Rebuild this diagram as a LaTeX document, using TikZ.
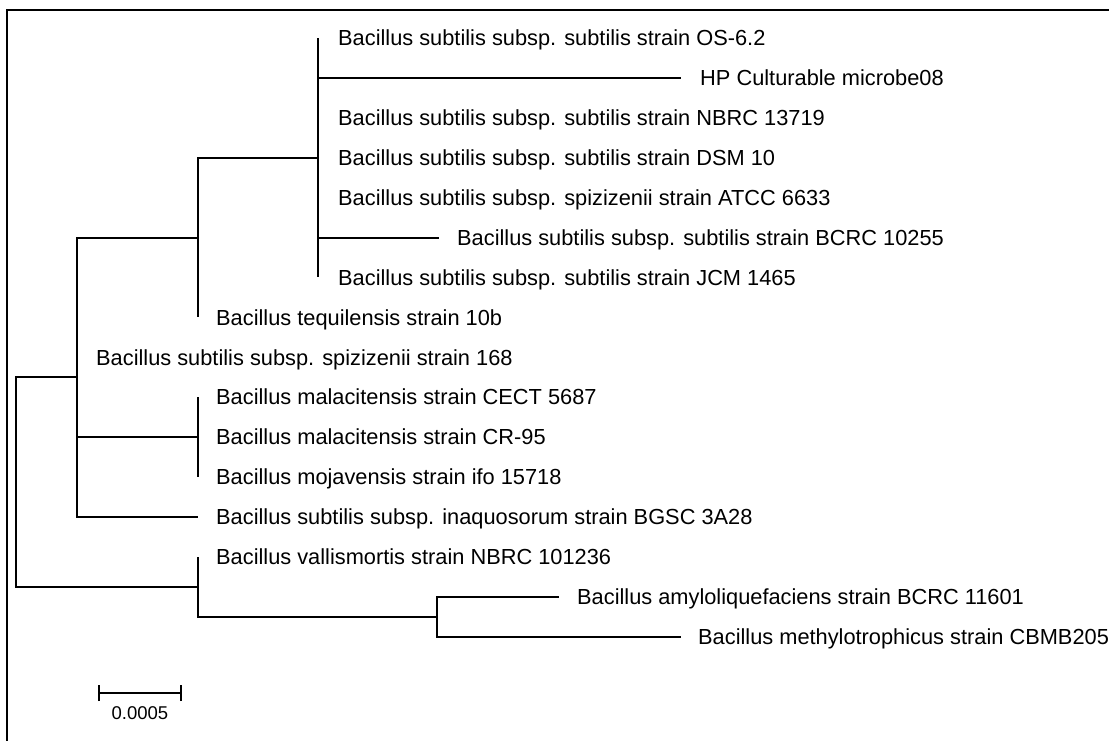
\documentclass[tikz,border=0pt]{standalone}
\usepackage{fontspec}
\setmainfont{Liberation Sans}
\begin{document}
\begin{tikzpicture}[x=1pt,y=-1pt,
  edge/.style={line width=2pt, line join=miter},
  frame/.style={line width=2.6pt},
  leaf/.style={anchor=base west, inner sep=0pt, font=\fontsize{21.8}{26}\selectfont},
  scalelabel/.style={anchor=base, inner sep=0pt, font=\fontsize{18.5}{22}\selectfont}]
\useasboundingbox (0,0) rectangle (1109,740);
% frame (top and left visible)
\draw[frame] (7,745) -- (7,10) -- (1115,10);
% internal nodes
\coordinate (R) at (16,481.9);
\coordinate (A) at (77,377.15);
\coordinate (B) at (198,237.5);
\coordinate (D) at (318,157.7);
\coordinate (C) at (198,437);
\coordinate (E) at (198,586.6);
\coordinate (F) at (437,616.55);
% leaf tips
\coordinate (l0) at (318,38);
\coordinate (l1) at (681,77.9);
\coordinate (l2) at (318,117.8);
\coordinate (l3) at (318,157.7);
\coordinate (l4) at (318,197.6);
\coordinate (l5) at (439,237.5);
\coordinate (l6) at (318,277.4);
\coordinate (l7) at (198,317.3);
\coordinate (l8) at (77,357.2);
\coordinate (l9) at (198,397.1);
\coordinate (l10) at (198,437);
\coordinate (l11) at (198,476.9);
\coordinate (l12) at (198,516.8);
\coordinate (l13) at (198,556.7);
\coordinate (l14) at (559,596.6);
\coordinate (l15) at (681,636.5);
% labels
\node[leaf] (t0) at (338,45.8) {Bacillus subtilis subsp. subtilis strain OS-6.2};
\node[leaf] (t1) at (700,85.7) {HP Culturable microbe08};
\node[leaf] (t2) at (338,125.6) {Bacillus subtilis subsp. subtilis strain NBRC 13719};
\node[leaf] (t3) at (338,165.5) {Bacillus subtilis subsp. subtilis strain DSM 10};
\node[leaf] (t4) at (338,205.4) {Bacillus subtilis subsp. spizizenii strain ATCC 6633};
\node[leaf] (t5) at (457,245.3) {Bacillus subtilis subsp. subtilis strain BCRC 10255};
\node[leaf] (t6) at (338,285.2) {Bacillus subtilis subsp. subtilis strain JCM 1465};
\node[leaf] (t7) at (216,325.1) {Bacillus tequilensis strain 10b};
\node[leaf] (t8) at (96,365) {Bacillus subtilis subsp. spizizenii strain 168};
\node[leaf] (t9) at (216,404.9) {Bacillus malacitensis strain CECT 5687};
\node[leaf] (t10) at (216,444.8) {Bacillus malacitensis strain CR-95};
\node[leaf] (t11) at (216,484.7) {Bacillus mojavensis strain ifo 15718};
\node[leaf] (t12) at (216,524.6) {Bacillus subtilis subsp. inaquosorum strain BGSC 3A28};
\node[leaf] (t13) at (216,564.5) {Bacillus vallismortis strain NBRC 101236};
\node[leaf] (t14) at (577,604.4) {Bacillus amyloliquefaciens strain BCRC 11601};
\node[leaf] (t15) at (698,644.3) {Bacillus methylotrophicus strain CBMB205};
% branches
\draw[edge] (R) |- (A);
\draw[edge] (R) |- (E);
\draw[edge] (A) |- (B);
\draw[edge] (A) |- (l8);
\draw[edge] (A) |- (C);
\draw[edge] (A) |- (l12);
\draw[edge] (B) |- (D);
\draw[edge] (B) |- (l7);
\foreach \i in {0,1,2,3,4,5,6} {\draw[edge] (D) |- (l\i);}
\foreach \i in {9,10,11} {\draw[edge] (C) |- (l\i);}
\draw[edge] (E) |- (l13);
\draw[edge] (E) |- (F);
\draw[edge] (F) |- (l14);
\draw[edge] (F) |- (l15);
% scale bar
\coordinate (s1) at (99,693);
\coordinate (s2) at (181,693);
\draw[edge] (s1) -- (s2);
\draw[edge] ([yshift=-8pt]s1) -- ([yshift=8pt]s1);
\draw[edge] ([yshift=-8pt]s2) -- ([yshift=8pt]s2);
\node[scalelabel] (sl) at (140,719) {0.0005};
\end{tikzpicture}
\end{document}
